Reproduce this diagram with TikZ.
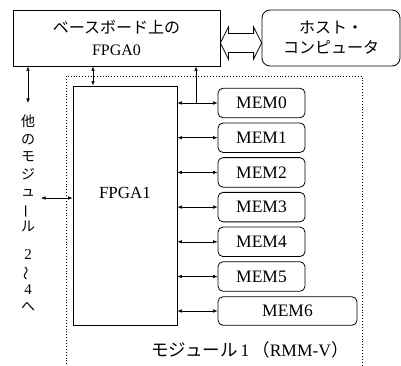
\documentclass[tikz,border=0pt]{standalone}
\usepackage{fontspec}
\setmainfont{Liberation Serif}
\newfontfamily\jp{Noto Sans CJK JP}
\usetikzlibrary{arrows.meta,calc}
\begin{document}
\begin{tikzpicture}[x=1pt,y=-1pt,
  box/.style={draw, line width=0.8pt, inner sep=0pt},
  rbox/.style={box, rounded corners=5pt},
  link/.style={line width=0.6pt, {Latex[length=4.5pt,width=3.5pt]}-{Latex[length=4.5pt,width=3.5pt]}},
  uplink/.style={line width=0.6pt, -{Latex[length=4.5pt,width=3.5pt]}},
  memtxt/.style={font=\fontsize{17.5}{20}\selectfont},
  frame/.style={dotted, line width=0.9pt}
]
\useasboundingbox (0,0) rectangle (401,366);

% top boxes
\node[box, minimum width=207pt, minimum height=56pt, align=center,
      font=\fontsize{16}{22}\selectfont] (fpga0) at (116.5,38)
      {{\jp ベースボード上の}\\FPGA0};
\node[box, rounded corners=8pt, minimum width=138pt, minimum height=56pt, align=center,
      font=\jp\fontsize{16}{20}\selectfont] (host) at (331,38)
      {ホスト・\\コンピュータ};

% hollow double arrow
\coordinate (hl) at (fpga0.east |- 0,43);
\coordinate (hr) at (host.west |- 0,43);
\draw[line width=0.8pt, line join=miter] (hl) -- ++(8,-16) -- ++(0,6.5) -- ($(hr)+(-8,-9.5)$) -- ++(0,-6.5)
  -- (hr) -- ++(-8,16) -- ++(0,-6.5) -- ($(hl)+(8,9.5)$) -- ++(0,6.5) -- cycle;

% module frame
\draw[frame] (66,370) -- (66,76) -- (362,76) -- (362,370);

% FPGA1
\node[box, minimum width=104pt, minimum height=239pt,
      label={[font=\fontsize{17}{20}\selectfont, yshift=12.5pt]center:FPGA1}] (fpga1) at (125,205.5) {};

% memories
\foreach \i in {0,...,5} {
  \node[rbox, memtxt, minimum width=87pt, minimum height=29.5pt] (mem\i) at (261.5,{103+34.7*\i}) {MEM\i};
}
\node[rbox, memtxt, minimum width=139pt, minimum height=28.5pt] (mem6) at (287.5,311) {MEM6};

\foreach \i in {0,...,6} {
  \draw[link] (fpga1.east |- mem\i.west) -- (mem\i.west);
}

% connections to FPGA0
\coordinate (j0) at (196,0);
\draw[uplink] (j0 |- mem0.west) -- (j0 |- fpga0.south);
\coordinate (a1) at (93,0);
\draw[link] (a1 |- fpga0.south) -- (a1 |- fpga1.north);
\coordinate (lt) at (28,103);
\draw[link] (lt |- fpga0.south) -- (lt);
\coordinate (lf) at (41,198);
\draw[link] (lf) -- (lf -| fpga1.west);

% vertical text
\node[inner sep=0pt, anchor=north, align=center, font=\jp\fontsize{14}{17.5}\selectfont] (vtext) at (28,115)
  {他\\の\\モ\\ジ\\ュ\\\rotatebox[origin=c]{90}{ー}\\ル\\[10pt]{\rmfamily\fontsize{15}{17.5}\selectfont 2}\\\rotatebox[origin=c]{90}{〜}\\{\rmfamily\fontsize{15}{17.5}\selectfont 4}\\へ};

% module label
\node[inner sep=0pt, font=\fontsize{17.5}{20}\selectfont] (modlbl) at (250,350)
  {{\jp モジュール}\,1\,{\jp （}RMM-V{\jp ）}};
\end{tikzpicture}
\end{document}
